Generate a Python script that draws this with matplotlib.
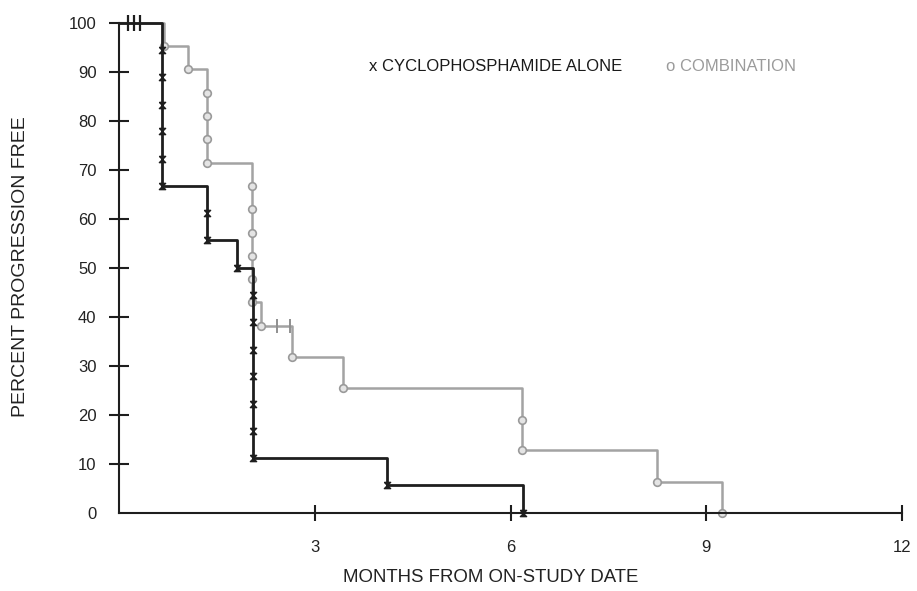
import matplotlib
matplotlib.use("Agg")
import matplotlib.pyplot as plt

plt.rcParams['font.family'] = ['Liberation Sans', 'DejaVu Sans']

# --- dados ---
# ciclofosfamida sozinha (preto)
cyclo_t = [0, 0.66, 1.35, 1.81, 2.06, 4.10, 6.19]
cyclo_s = [100, 66.7, 55.6, 50.0, 11.1, 5.6, 0]
cyclo_mark_t = [0.66, 0.66, 0.66, 0.66, 0.66, 0.66, 1.35, 1.35, 1.81,
                2.06, 2.06, 2.06, 2.06, 2.06, 2.06, 2.06, 4.10, 6.19]
cyclo_mark_s = [94.4, 88.9, 83.3, 77.8, 72.2, 66.7, 61.1, 55.6, 50.0,
                44.4, 38.9, 33.3, 27.8, 22.2, 16.7, 11.1, 5.6, 0]
cyclo_cens_t = [0.14, 0.23, 0.32]
cyclo_cens_s = [100, 100, 100]

# combinação (cinza)
comb_t = [0, 0.69, 1.06, 1.35, 2.04, 2.17, 2.65, 3.43, 6.17, 8.25, 9.24]
comb_s = [100, 95.2, 90.5, 71.4, 42.9, 38.1, 31.7, 25.4, 12.7, 6.3, 0]
comb_mark_t = [0.69, 1.06, 1.35, 1.35, 1.35, 1.35, 2.04, 2.04, 2.04, 2.04,
               2.04, 2.04, 2.17, 2.65, 3.43, 6.17, 6.17, 8.25, 9.24]
comb_mark_s = [95.2, 90.5, 85.7, 81.0, 76.2, 71.4, 66.7, 61.9, 57.1, 52.4,
               47.6, 42.9, 38.1, 31.7, 25.4, 19.0, 12.7, 6.3, 0]
comb_cens_t = [2.42, 2.62]
comb_cens_s = [38.1, 38.1]

x_ticks = [3, 6, 9, 12]
y_ticks = [0, 10, 20, 30, 40, 50, 60, 70, 80, 90, 100]

BLACK = '#1e1e1e'
GRAY = '#a3a3a3'

fig = plt.figure(figsize=(9.17, 5.91), dpi=100)
ax = fig.add_axes([0.1298, 0.1325, 0.8539, 0.8291])

# cinza primeiro, preto por cima
ax.plot(comb_t, comb_s, drawstyle='steps-post', color=GRAY, lw=1.8, clip_on=False)
ax.plot(comb_mark_t, comb_mark_s, ls='none', marker='o', ms=5.5, mfc='#e4e4e4',
        mec='#9a9a9a', mew=1.2, clip_on=False)
ax.plot(comb_cens_t, comb_cens_s, ls='none', marker='|', ms=10, mew=1.4,
        color='#8f8f8f', clip_on=False)

ampulheta = [(-1, 1), (1, 1), (-1, -1), (1, -1), (-1, 1)]
ax.plot(cyclo_t, cyclo_s, drawstyle='steps-post', color=BLACK, lw=2, clip_on=False)
ax.plot(cyclo_mark_t, cyclo_mark_s, ls='none', marker=ampulheta, ms=4.5,
        color=BLACK, clip_on=False)
ax.plot(cyclo_cens_t, cyclo_cens_s, ls='none', marker='|', ms=11, mew=1.6,
        color=BLACK, clip_on=False)

ax.set_xlim(0, 12)
ax.set_ylim(0, 100)
for s in ['top', 'right']:
    ax.spines[s].set_visible(False)
for s in ['left', 'bottom']:
    ax.spines[s].set_linewidth(1.5)
    ax.spines[s].set_color(BLACK)

ax.set_xticks(x_ticks)
ax.set_yticks(y_ticks)
ax.tick_params(axis='y', direction='inout', length=14.4, width=1.5,
               color=BLACK, pad=9, labelsize=12, labelcolor='#222222')
ax.tick_params(axis='x', direction='inout', length=11.5, width=1.5,
               color=BLACK, pad=14, labelsize=12, labelcolor='#222222')
ax.yaxis.get_major_ticks()[0].tick1line.set_visible(False)

# legenda em texto
ax.text(3.83, 91, 'x CYCLOPHOSPHAMIDE ALONE', fontsize=12, color='#1a1a1a',
        va='center', ha='left')
ax.text(8.38, 91, 'o COMBINATION', fontsize=12, color='#9b9b9b',
        va='center', ha='left')

fig.text(491 / 917, 1 - 578 / 591, 'MONTHS FROM ON-STUDY DATE', fontsize=13.4,
         color='#222222', ha='center', va='center')
fig.text(21 / 917, 1 - 267 / 591, 'PERCENT PROGRESSION FREE', fontsize=14,
         color='#222222', ha='center', va='center', rotation=90)

fig.savefig('out.png', dpi=100)
